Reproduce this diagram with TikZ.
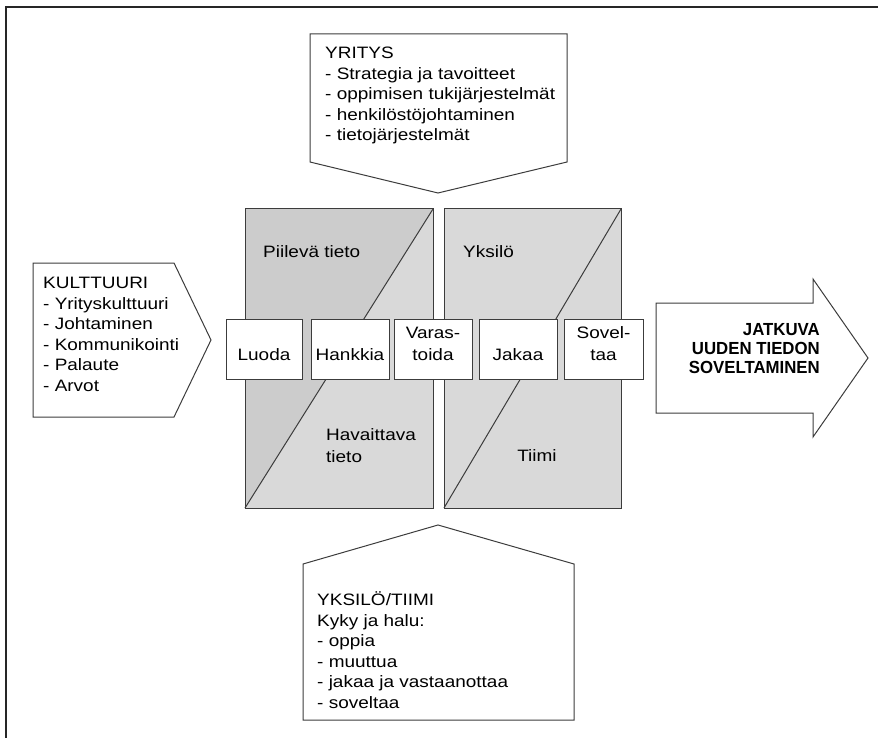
\documentclass[tikz,border=0pt]{standalone}
\usepackage{fontspec}
\setmainfont[FakeStretch=1.15]{Liberation Sans}
\newfontfamily\headfont[FakeStretch=0.96]{Liberation Sans}
\definecolor{linegray}{RGB}{60,60,60}
\definecolor{darkfill}{RGB}{204,204,204}
\definecolor{lightfill}{RGB}{217,217,217}
\begin{document}
\begin{tikzpicture}[x=1pt,y=-1pt,
  outline/.style={draw=linegray, line width=1pt, line join=miter},
  txt/.style={inner sep=0pt, font=\fontsize{16.5}{20.6}\selectfont, text=black},
  boxtxt/.style={inner sep=0pt, font=\fontsize{16.5}{22}\selectfont, text=black, anchor=base},
  stepbox/.style={draw=linegray, line width=1pt, fill=white, minimum height=60pt, inner sep=0pt},
]
\useasboundingbox (0,0) rectangle (878,738);

% page frame (top and left edges)
\draw[line width=2pt, draw=black!85] (878,7.5) -- (6,7.5) -- (6,738);

% YRITYS pentagon pointing down
\draw[outline, fill=white] (310,34) -- (567,34) -- (567,162) -- (438,193) -- (310,162) -- cycle;
\node[txt, anchor=base west] (yritys) at (325,58.5)
  {\begin{tabular}[t]{@{}l@{}}YRITYS\\- Strategia ja tavoitteet\\- oppimisen tukijärjestelmät\\- henkilöstöjohtaminen\\- tietojärjestelmät\end{tabular}};

% KULTTUURI pentagon pointing right
\draw[outline, fill=white] (33,263) -- (174,263) -- (211,340) -- (174,417) -- (33,417) -- cycle;
\node[txt, anchor=base west] (kulttuuri) at (43,288.5)
  {\begin{tabular}[t]{@{}l@{}}KULTTUURI\\- Yrityskulttuuri\\- Johtaminen\\- Kommunikointi\\- Palaute\\- Arvot\end{tabular}};

% YKSILÖ/TIIMI pentagon pointing up
\draw[outline, fill=white] (303,564) -- (438,525) -- (574,564) -- (574,720) -- (303,720) -- cycle;
\node[txt, anchor=base west] (yksilotiimi) at (317,605.5)
  {\begin{tabular}[t]{@{}l@{}}YKSILÖ/TIIMI\\Kyky ja halu:\\- oppia\\- muuttua\\- jakaa ja vastaanottaa\\- soveltaa\end{tabular}};

% knowledge square: tacit / explicit
\fill[lightfill] (245,209) rectangle (433,508);
\fill[darkfill] (245,209) -- (433,209) -- (245,508) -- cycle;
\draw[outline] (245,209) rectangle (433,508);
\draw[outline] (433,209) -- (245,508);

% individual / team square
\fill[lightfill] (444,209) rectangle (621,508);
\draw[outline] (444,209) rectangle (621,508);
\draw[outline] (621,209) -- (444,508);

\node[txt, anchor=base west] (piileva) at (263,258) {Piilevä tieto};
\node[txt, anchor=base west] (yksilo) at (463,258) {Yksilö};
\node[boxtxt, anchor=base west] (havaittava) at (326,440)
  {\begin{tabular}[t]{@{}l@{}}Havaittava\\tieto\end{tabular}};
\node[txt, anchor=base] (tiimi) at (537,461) {Tiimi};

% process steps
\node[stepbox, minimum width=76pt] (luoda) at (264,349) {};
\node[stepbox, minimum width=78pt] (hankkia) at (350,349) {};
\node[stepbox, minimum width=78pt] (varastoida) at (433,349) {};
\node[stepbox, minimum width=78pt] (jakaa) at (518,349) {};
\node[stepbox, minimum width=79pt] (soveltaa) at (603.5,349) {};

\node[boxtxt] (luodat) at (luoda |- 0,360) {Luoda};
\node[boxtxt] (hankkiat) at (hankkia |- 0,360) {Hankkia};
\node[boxtxt] (varastoidat) at (varastoida |- 0,338)
  {\begin{tabular}[t]{@{}c@{}}Varas-\\toida\end{tabular}};
\node[boxtxt] (jakaat) at (jakaa |- 0,360) {Jakaa};
\node[boxtxt] (soveltaat) at (soveltaa |- 0,338)
  {\begin{tabular}[t]{@{}c@{}}Sovel-\\taa\end{tabular}};

% outcome arrow
\draw[outline, fill=white] (656,303) -- (813,303) -- (813,279) -- (868,358)
  -- (813,437) -- (813,413) -- (656,413) -- cycle;
\node[inner sep=0pt, anchor=base east, font=\headfont\bfseries\fontsize{17.5}{19}\selectfont] (jatkuva) at (820,335)
  {\begin{tabular}[t]{@{}r@{}}JATKUVA\\UUDEN TIEDON\\SOVELTAMINEN\end{tabular}};
\end{tikzpicture}
\end{document}
